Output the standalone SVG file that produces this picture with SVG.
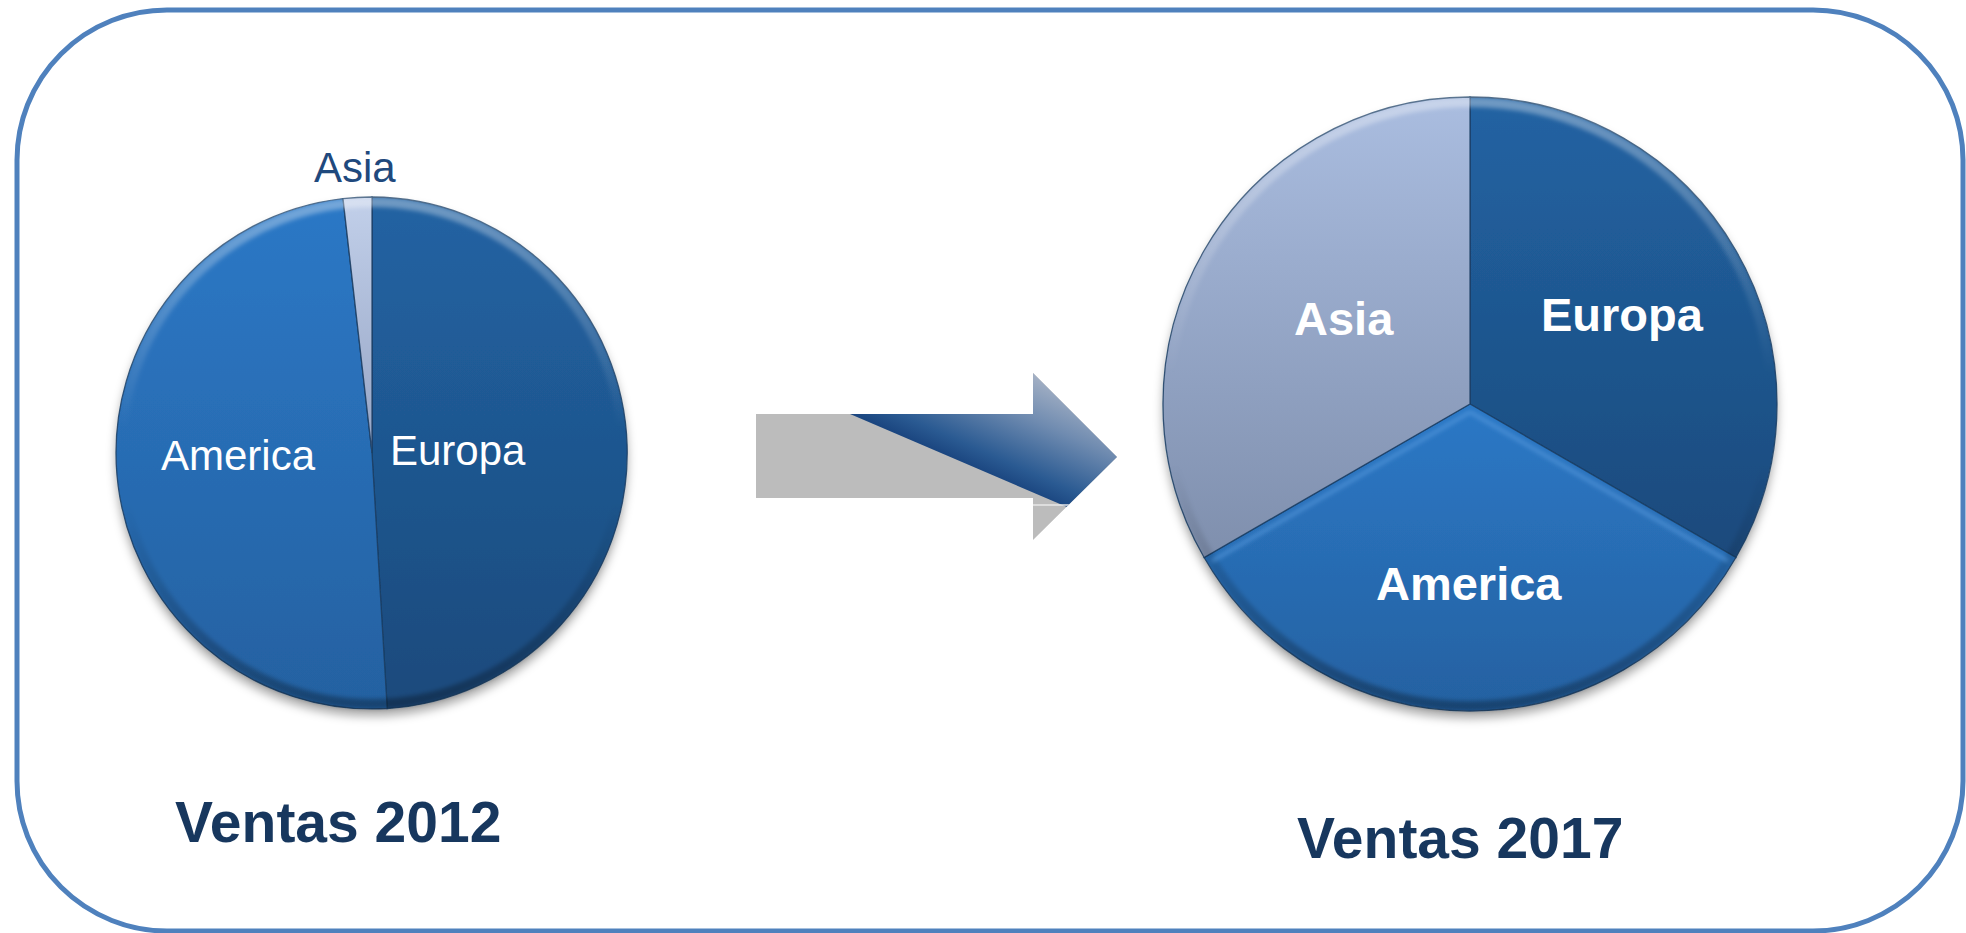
<svg xmlns="http://www.w3.org/2000/svg" width="1966" height="933" viewBox="0 0 1966 933">
<defs>
<style>
.frame{fill:#ffffff;stroke:#4F81BD;stroke-width:5}
.slice{stroke:#1a3d63;stroke-width:1.3;stroke-opacity:0.85}
.lblS{font-family:"Liberation Sans",Arial,sans-serif;font-size:42px;fill:#ffffff}
.lblB{font-family:"Liberation Sans",Arial,sans-serif;font-size:47px;font-weight:bold;fill:#ffffff}
.title{font-family:"Liberation Sans",Arial,sans-serif;font-size:57px;font-weight:bold;fill:#17375E}
.rim{fill:none;stroke-width:10}
</style>
<filter id="shadow" x="-10%" y="-10%" width="120%" height="125%">
<feDropShadow dx="0" dy="7" stdDeviation="5" flood-color="#000" flood-opacity="0.32"/>
</filter>
<filter id="soft"><feGaussianBlur stdDeviation="2"/></filter>
<linearGradient id="gEur" x1="0" y1="0" x2="0" y2="1">
<stop offset="0" stop-color="#2263a3"/><stop offset="1" stop-color="#1b4a7c"/>
</linearGradient>
<linearGradient id="gAme" x1="0" y1="0" x2="0" y2="1">
<stop offset="0" stop-color="#2c78c6"/><stop offset="1" stop-color="#2461a1"/>
</linearGradient>
<linearGradient id="gAsia" x1="0" y1="0" x2="0" y2="1">
<stop offset="0" stop-color="#aabde0"/><stop offset="1" stop-color="#7f8fad"/>
</linearGradient>
<linearGradient id="gAsiaS" x1="0" y1="0" x2="0" y2="1">
<stop offset="0" stop-color="#c2d0ea"/><stop offset="1" stop-color="#95a4c4"/>
</linearGradient>
<linearGradient id="gRim" x1="0" y1="0" x2="0" y2="1">
<stop offset="0" stop-color="#ffffff" stop-opacity="0.35"/>
<stop offset="0.45" stop-color="#ffffff" stop-opacity="0"/>
<stop offset="0.6" stop-color="#000000" stop-opacity="0"/>
<stop offset="1" stop-color="#000000" stop-opacity="0.3"/>
</linearGradient>
<linearGradient id="gArrow" gradientUnits="userSpaceOnUse" x1="950" y1="457" x2="1000" y2="345">
<stop offset="0" stop-color="#1b4680"/>
<stop offset="0.15" stop-color="#2a5a92"/>
<stop offset="0.55" stop-color="#6f8bb0"/>
<stop offset="1" stop-color="#b4bccb"/>
</linearGradient>
<clipPath id="arrowClip">
<polygon points="756,414 1033,414 1033,373 1117,457 1033,540 1033,498 756,498"/>
</clipPath>
</defs>

<g id="frame">
<rect class="frame" x="17" y="10" width="1946" height="921" rx="150" ry="150"/>
</g>

<g id="pie2012">
<g filter="url(#shadow)">
<path id="pie2012-europa" class="slice" fill="url(#gEur)" d="M372,453 L372,197 A256,256 0 0 1 387.2,708.5 Z"/>
<path id="pie2012-america" class="slice" fill="url(#gAme)" d="M372,453 L387.2,708.5 A256,256 0 0 1 343,198.6 Z"/>
<path id="pie2012-asia" class="slice" fill="url(#gAsiaS)" d="M372,453 L343,198.6 A256,256 0 0 1 372,197 Z"/>
</g>
<circle class="rim" cx="372" cy="453" r="251" stroke="url(#gRim)" filter="url(#soft)"/>
<text class="lblS" x="161" y="470">America</text>
<text class="lblS" x="390" y="465">Europa</text>
<text class="lblS" x="314" y="182" style="fill:#1F497D">Asia</text>
</g>

<g id="pie2017">
<g filter="url(#shadow)">
<path id="pie2017-europa" class="slice" fill="url(#gEur)" d="M1470,404 L1470,97 A307,307 0 0 1 1735.9,557.5 Z"/>
<path id="pie2017-america" class="slice" fill="url(#gAme)" d="M1470,404 L1735.9,557.5 A307,307 0 0 1 1204.1,557.5 Z"/>
<path id="pie2017-asia" class="slice" fill="url(#gAsia)" d="M1470,404 L1204.1,557.5 A307,307 0 0 1 1470,97 Z"/>
</g>
<circle class="rim" cx="1470" cy="404" r="302" stroke="url(#gRim)" filter="url(#soft)"/>
<path d="M1470,412 L1212,561 M1470,412 L1728,561" fill="none" stroke="#5a9de0" stroke-width="4" stroke-opacity="0.6" filter="url(#soft)"/>
<text class="lblB" x="1294" y="335">Asia</text>
<text class="lblB" x="1541" y="331">Europa</text>
<text class="lblB" x="1376" y="600">America</text>
</g>

<g id="connectors">
<g id="arrow" clip-path="url(#arrowClip)">
<rect x="750" y="360" width="380" height="190" fill="#bcbcbc"/>
<polygon points="850,414 1067,507 1140,538 1140,360 850,360" fill="url(#gArrow)"/>
<line x1="1033" y1="505" x2="1070" y2="505" stroke="#e8e8e8" stroke-width="1.5"/>
</g>
</g>

<g id="titles">
<text class="title" x="175" y="842">Ventas 2012</text>
<text class="title" x="1297" y="858">Ventas 2017</text>
</g>
</svg>
